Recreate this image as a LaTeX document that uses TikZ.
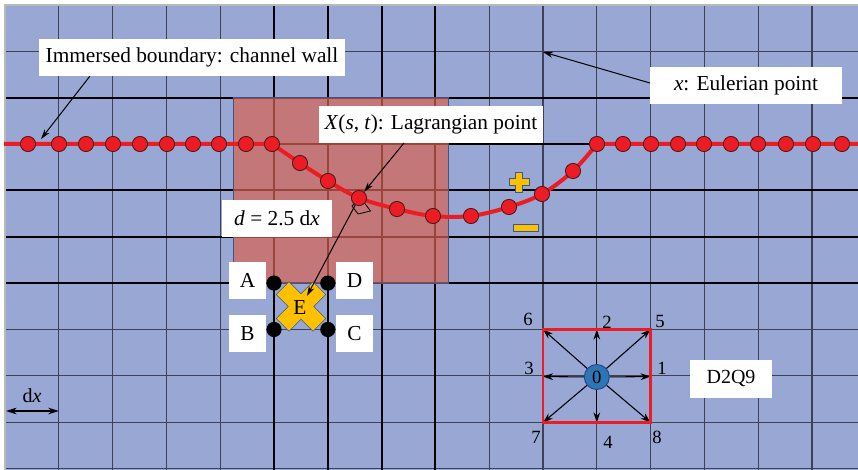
\documentclass[tikz,border=0pt]{standalone}
\usepackage{fontspec}
\setmainfont{Liberation Serif}
\usetikzlibrary{arrows.meta}
\definecolor{gridbg}{RGB}{152,167,212}
\definecolor{thinline}{RGB}{62,66,84}
\definecolor{pinkc}{RGB}{216,100,82}
\definecolor{redc}{RGB}{237,28,36}
\definecolor{rdotline}{RGB}{70,25,25}
\definecolor{yel}{RGB}{255,192,0}
\definecolor{yelo}{RGB}{50,90,150}
\definecolor{ballc}{RGB}{46,117,182}
\definecolor{ballo}{RGB}{30,75,130}
\definecolor{pinkedge}{RGB}{60,85,140}
\tikzset{
  lbl/.style={fill=white, inner sep=0pt, font=\fontsize{16}{19}\selectfont},
  arr/.style={-{Stealth[length=7.5pt,width=4.5pt]}, line width=0.75pt, black},
  darr/.style={-{Stealth[length=7.5pt,width=5pt]}, line width=0.8pt, black},
  rdot/.style={circle, fill=redc, draw=rdotline, line width=0.6pt, minimum size=11.4pt, inner sep=0pt},
  kdot/.style={circle, fill=black, minimum size=11.4pt, inner sep=0pt},
  num/.style={font=\fontsize{14}{16}\selectfont, inner sep=0pt},
  thingrid/.style={thinline, line width=0.9pt},
  thickgrid/.style={black, line width=1.5pt},
  yshape/.style={fill=yel, draw=yelo, line width=0.5pt},
}
\begin{document}
\begin{tikzpicture}[x=0.75pt,y=-0.75pt]
\useasboundingbox (0,0) rectangle (858,470);
\begin{scope}
\clip (0,0) rectangle (858,470);
\fill[gridbg] (5,5) rectangle (862,474);
\foreach \k in {1,...,15} \draw[thingrid] ({5+53.8*\k},5) -- ({5+53.8*\k},472);
\foreach \k in {1,...,10} \draw[thingrid] (5,{5+46.35*\k}) -- (860,{5+46.35*\k});
\foreach \k in {5,...,8} \draw[thickgrid] ({5+53.8*\k},5) -- ({5+53.8*\k},472);
\foreach \k in {2,...,6} \draw[thickgrid] (5,{5+46.35*\k}) -- (860,{5+46.35*\k});
\draw[gray!55, line width=0.9pt] (5,472) -- (5,5) -- (860,5);
% pink interpolation region
\fill[pinkc, opacity=0.7] (233,97.7) rectangle (448,283.1);
\draw[pinkedge, line width=0.6pt] (233,97.7) rectangle (448,283.1);
% red boundary
\draw[redc, line width=3pt] (4,144) -- (272,144) -- plot[smooth, tension=0.55] coordinates {(272,144) (300,163) (328,181) (359,198) (397,209) (433,216) (471,216) (509,207) (542,194) (573,171) (597,144)} -- (860,144);
\end{scope}

% right-angle marker
\draw[black, line width=0.6pt] (359,199) -- (352,206) -- (358,214) -- (370.5,211) -- (364.5,203) -- cycle;

% boundary points
\foreach \px/\py [count=\i] in {28/144,59/144,86/144,113/144,140/144,167/144,193/144,219/144,246/144,272/144,
  300/163,328/181,359/198,397/209,433/216,471/216,509/207,542/194,573/171,
  597/144,623/144,651/144,678/144,704/144,731/144,758/144,786/144,813/144,842/144}
  \node[rdot] (p\i) at (\px,\py) {};

% yellow X at E
\begin{scope}[shift={(301,306.5)}, rotate=45]
\filldraw[yshape] (-9,-26) -- (9,-26) -- (9,-9) -- (26,-9) -- (26,9) -- (9,9) -- (9,26) -- (-9,26) -- (-9,9) -- (-26,9) -- (-26,-9) -- (-9,-9) -- cycle;
\end{scope}
\node[font=\fontsize{16}{19}\selectfont, inner sep=0pt] (E) at (300,308) {E};

% black grid nodes
\node[kdot] (dA) at (274,283.1) {};
\node[kdot] (dD) at (327.8,283.1) {};
\node[kdot] (dB) at (274,329.5) {};
\node[kdot] (dC) at (327.8,329.5) {};

% plus and minus
\filldraw[yshape] (515.5,172) -- (522.5,172) -- (522.5,178.5) -- (529,178.5) -- (529,185.5) -- (522.5,185.5) -- (522.5,192) -- (515.5,192) -- (515.5,185.5) -- (509,185.5) -- (509,178.5) -- (515.5,178.5) -- cycle;
\filldraw[yshape] (513.5,224.5) rectangle (538.5,231.5);

% labels
\node[lbl, minimum width=229.5pt, minimum height=27.75pt] (L1) at (192,57.5) {Immersed boundary: channel wall};
\node[lbl, minimum width=144pt, minimum height=27.75pt] (L2) at (746,85.5) {\textit{x}: Eulerian point};
\node[lbl, minimum width=168pt, minimum height=27.75pt] (L3) at (431,124.5) {\textit{X}(\textit{s}, \textit{t}): Lagrangian point};
\node[lbl, minimum width=82.5pt, minimum height=27.75pt] (L4) at (277,218.5) {\textit{d} = 2.5 d\textit{x}};
\node[lbl, minimum width=27.75pt, minimum height=27.75pt] (LA) at (247.5,280.5) {A};
\node[lbl, minimum width=27.75pt, minimum height=27.75pt] (LB) at (247.5,334) {B};
\node[lbl, minimum width=27.75pt, minimum height=27.75pt] (LD) at (354.5,280.5) {D};
\node[lbl, minimum width=27.75pt, minimum height=27.75pt] (LC) at (354.5,333.5) {C};
\node[lbl, minimum width=61.5pt, minimum height=28.5pt, font=\fontsize{15}{18}\selectfont] (L5) at (731,379) {D2Q9};

% annotation arrows
\coordinate (a1s) at (90,76);
\coordinate (a1e) at (41,139);
\draw[arr] (a1s) -- (a1e);
\coordinate (a2s) at (650,83);
\coordinate (a2e) at (543,52);
\draw[arr] (a2s) -- (a2e);
\coordinate (a3s) at (404,143);
\draw[arr] (a3s) -- (p13);
\coordinate (a4e) at (307,296);
\draw[arr] (p13) -- (a4e);

% dx
\coordinate (dx1) at (6,411);
\coordinate (dx2) at (58.8,411);
\draw[{Stealth[length=8pt,width=5pt]}-{Stealth[length=8pt,width=5pt]}, line width=0.8pt] (dx1) -- (dx2);
\node[font=\fontsize{15}{18}\selectfont, inner sep=0pt] (dxl) at (32,396) {d\textit{x}};

% D2Q9 stencil
\coordinate (q1) at (650.6,376.6);
\coordinate (q2) at (596.8,329.5);
\coordinate (q3) at (543,376.6);
\coordinate (q4) at (596.8,422.5);
\coordinate (q5) at (650.6,329.5);
\coordinate (q6) at (543,329.5);
\coordinate (q7) at (543,422.5);
\coordinate (q8) at (650.6,422.5);
\node[circle, fill=ballc, draw=ballo, line width=0.7pt, minimum size=18.75pt, inner sep=0pt, font=\fontsize{14}{16}\selectfont] (c0) at (596.8,377) {0};
\foreach \q in {1,...,8} \draw[darr] (c0) -- (q\q);
\draw[redc, line width=2pt] (q6) rectangle (q8);
\node[num] (n1) at (662,368) {1};
\node[num] (n2) at (607,322) {2};
\node[num] (n3) at (529,368) {3};
\node[num] (n4) at (608,442) {4};
\node[num] (n5) at (660,321) {5};
\node[num] (n6) at (528,319) {6};
\node[num] (n7) at (536,437) {7};
\node[num] (n8) at (657,437) {8};
\end{tikzpicture}
\end{document}
